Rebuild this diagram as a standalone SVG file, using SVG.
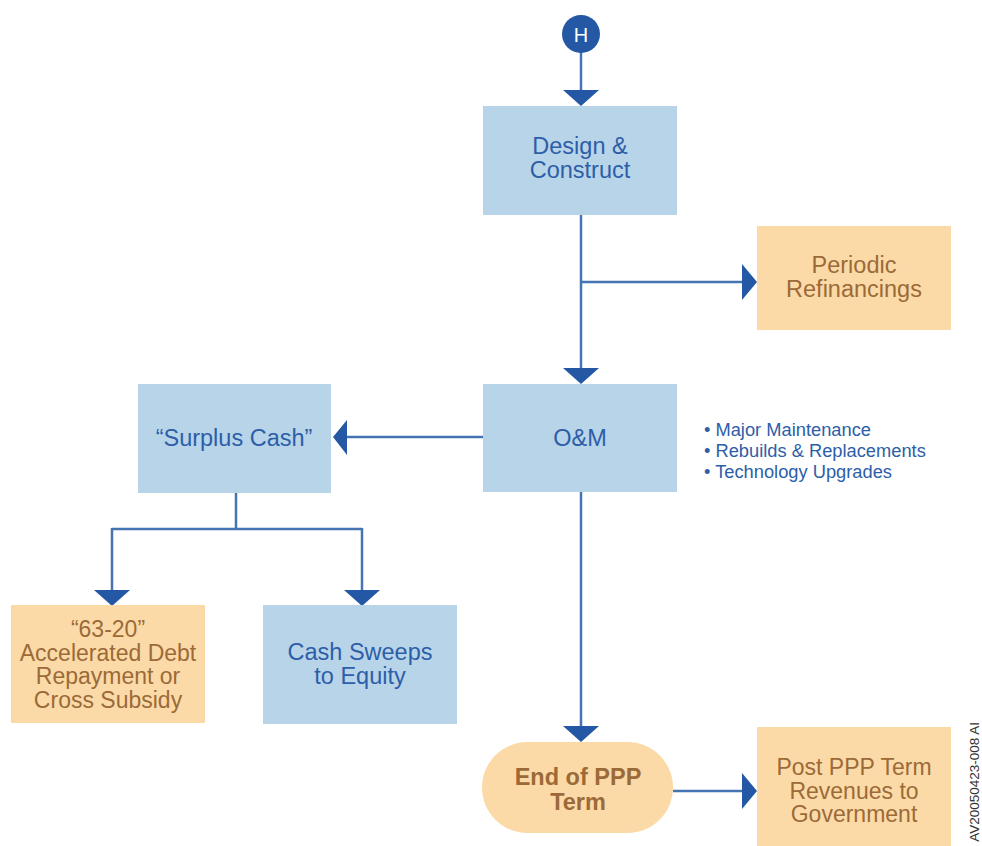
<svg xmlns="http://www.w3.org/2000/svg" width="982" height="846" viewBox="0 0 982 846">
<defs>
<style>
.bb{fill:#b8d4e9}
.ob{fill:#fcdaa7}
.bt{font-family:"Liberation Sans",Arial,sans-serif;font-size:23.5px;fill:#2d5ea8;text-anchor:middle}
.ot{font-family:"Liberation Sans",Arial,sans-serif;font-size:23.5px;fill:#9b6a38;text-anchor:middle}
.ln{stroke:#4673b2;stroke-width:2.5;fill:none}
.ah{fill:#2457a4}
.bl{font-family:"Liberation Sans",Arial,sans-serif;font-size:18.3px;fill:#2d5ea8}
</style>
</defs>
<rect width="982" height="846" fill="#ffffff"/>
<g id="connectors">
<line class="ln" x1="581" y1="52" x2="581" y2="92"/>
<polygon class="ah" points="563,90 599,90 581,106"/>
<line class="ln" x1="581" y1="215" x2="581" y2="370"/>
<line class="ln" x1="581" y1="282" x2="744" y2="282"/>
<polygon class="ah" points="742,264 742,300 757,282"/>
<polygon class="ah" points="563,368 599,368 581,384"/>
<line class="ln" x1="483" y1="437" x2="345" y2="437"/>
<polygon class="ah" points="347,420 347,455 333,437"/>
<line class="ln" x1="236" y1="493" x2="236" y2="529"/>
<line class="ln" x1="112" y1="529" x2="362" y2="529"/>
<line class="ln" x1="112" y1="528" x2="112" y2="592"/>
<line class="ln" x1="362" y1="528" x2="362" y2="592"/>
<polygon class="ah" points="94,590 130,590 112,606"/>
<polygon class="ah" points="344,590 380,590 362,606"/>
<line class="ln" x1="581" y1="492" x2="581" y2="728"/>
<polygon class="ah" points="563,726 599,726 581,742"/>
<line class="ln" x1="673" y1="791" x2="744" y2="791"/>
<polygon class="ah" points="742,773 742,809 757,791"/>
</g>
<g id="start">
<circle cx="581" cy="34" r="19" fill="#2457a4"/>
<text x="581" y="41.5" font-family="Liberation Sans,Arial,sans-serif" font-size="20" fill="#ffffff" text-anchor="middle">H</text>
</g>
<g id="design">
<rect class="bb" x="483" y="106" width="194" height="109"/>
<text class="bt" x="580" y="154">Design &amp;</text>
<text class="bt" x="580" y="178">Construct</text>
</g>
<g id="refinancings">
<rect class="ob" x="757" y="226" width="194" height="104"/>
<text class="ot" x="854" y="273">Periodic</text>
<text class="ot" x="854" y="297">Refinancings</text>
</g>
<g id="om">
<rect class="bb" x="483" y="384" width="194" height="108"/>
<text class="bt" x="580" y="446">O&amp;M</text>
</g>
<g id="om-notes">
<text class="bl" x="704" y="436">• Major Maintenance</text>
<text class="bl" x="704" y="457">• Rebuilds &amp; Replacements</text>
<text class="bl" x="704" y="478">• Technology Upgrades</text>
</g>
<g id="surplus">
<rect class="bb" x="138" y="384" width="193" height="109"/>
<text class="bt" x="234" y="446">“Surplus Cash”</text>
</g>
<g id="debt">
<rect class="ob" x="11" y="605" width="194" height="118"/>
<text class="ot" x="108" y="637" style="font-size:23px">“63-20”</text>
<text class="ot" x="108" y="660.5" style="font-size:23px">Accelerated Debt</text>
<text class="ot" x="108" y="684" style="font-size:23px">Repayment or</text>
<text class="ot" x="108" y="707.5" style="font-size:23px">Cross Subsidy</text>
</g>
<g id="sweeps">
<rect class="bb" x="263" y="605" width="194" height="119"/>
<text class="bt" x="360" y="660">Cash Sweeps</text>
<text class="bt" x="360" y="684">to Equity</text>
</g>
<g id="end">
<rect x="482" y="742" width="191" height="91" rx="45.5" ry="45.5" fill="#fcdaa7"/>
<text class="ot" x="578" y="785" font-weight="bold">End of PPP</text>
<text class="ot" x="578" y="810" font-weight="bold">Term</text>
</g>
<g id="post">
<rect class="ob" x="757" y="727" width="194" height="119"/>
<text class="ot" x="854" y="775" style="font-size:23px">Post PPP Term</text>
<text class="ot" x="854" y="798.5" style="font-size:23px">Revenues to</text>
<text class="ot" x="854" y="822" style="font-size:23px">Government</text>
</g>
<text x="0" y="0" transform="translate(979,722) rotate(-90)" font-family="Liberation Sans,Arial,sans-serif" font-size="13.5" fill="#333333" text-anchor="end">AV20050423-008 AI</text>
</svg>
